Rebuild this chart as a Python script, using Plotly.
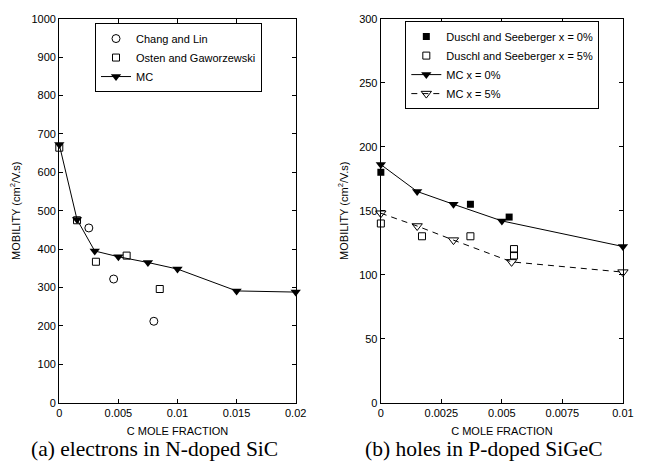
import plotly.graph_objects as go

# ---- data: (a) electrons in N-doped SiC ----
mc_a_x = [0, 0.0015, 0.003, 0.005, 0.0075, 0.01, 0.015, 0.02]
mc_a_y = [672, 477, 395, 380, 365, 348, 291, 288]
chang_x = [0.0025, 0.0046, 0.0080]
chang_y = [455, 322, 212]
osten_x = [0, 0.0015, 0.0031, 0.0057, 0.0085]
osten_y = [664, 475, 367, 383, 296]
xticks_a = [0, 0.005, 0.01, 0.015, 0.02]
xtext_a = ["0", "0.005", "0.01", "0.015", "0.02"]
yticks_a = [0, 100, 200, 300, 400, 500, 600, 700, 800, 900, 1000]

# ---- data: (b) holes in P-doped SiGeC ----
mc0_x = [0, 0.0015, 0.003, 0.005, 0.01]
mc0_y = [186, 165, 155, 142, 122]
mc5_x = [0, 0.0015, 0.003, 0.0054, 0.01]
mc5_y = [148, 138, 127, 110, 102]
dus0_x = [0, 0.0037, 0.0053]
dus0_y = [180, 155, 145]
dus5_x = [0, 0.0017, 0.0037, 0.0055, 0.0055]
dus5_y = [140, 130, 130, 120, 115]
xticks_b = [0, 0.0025, 0.005, 0.0075, 0.01]
xtext_b = ["0", "0.0025", "0.005", "0.0075", "0.01"]
yticks_b = [0, 50, 100, 150, 200, 250, 300]

W, H = 663, 473
FONT = "Liberation Sans, Arial, sans-serif"
SERIF = "Liberation Serif, Times New Roman, serif"

fig = go.Figure()

# (a)
fig.add_trace(go.Scatter(x=chang_x, y=chang_y, mode="markers", name="Chang and Lin", cliponaxis=False,
                         marker=dict(symbol="circle-open", size=8, color="black", line=dict(width=1)),
                         xaxis="x", yaxis="y", legend="legend"))
fig.add_trace(go.Scatter(x=osten_x, y=osten_y, mode="markers", name="Osten and Gaworzewski", cliponaxis=False,
                         marker=dict(symbol="square-open", size=7, color="black", line=dict(width=1)),
                         xaxis="x", yaxis="y", legend="legend"))
fig.add_trace(go.Scatter(x=mc_a_x, y=mc_a_y, mode="lines+markers", name="MC", cliponaxis=False,
                         line=dict(color="black", width=1),
                         marker=dict(symbol="triangle-down", size=9, color="black"),
                         xaxis="x", yaxis="y", legend="legend"))

# (b)
fig.add_trace(go.Scatter(x=dus0_x, y=dus0_y, mode="markers", name="Duschl and Seeberger x = 0%", cliponaxis=False,
                         marker=dict(symbol="square", size=7, color="black"),
                         xaxis="x2", yaxis="y2", legend="legend2"))
fig.add_trace(go.Scatter(x=dus5_x, y=dus5_y, mode="markers", name="Duschl and Seeberger x = 5%", cliponaxis=False,
                         marker=dict(symbol="square-open", size=7, color="black", line=dict(width=1)),
                         xaxis="x2", yaxis="y2", legend="legend2"))
fig.add_trace(go.Scatter(x=mc0_x, y=mc0_y, mode="lines+markers", name="MC x = 0%", cliponaxis=False,
                         line=dict(color="black", width=1),
                         marker=dict(symbol="triangle-down", size=9, color="black"),
                         xaxis="x2", yaxis="y2", legend="legend2"))
fig.add_trace(go.Scatter(x=mc5_x, y=mc5_y, mode="lines+markers", name="MC x = 5%", cliponaxis=False,
                         line=dict(color="black", width=1, dash="6px,5px"),
                         marker=dict(symbol="triangle-down-open", size=9, color="black", line=dict(width=1)),
                         xaxis="x2", yaxis="y2", legend="legend2"))

ytop = 1 - 13 / H
ybot = 1 - 407 / H

axis_common = dict(showgrid=False, zeroline=False, showline=True, linecolor="black",
                   linewidth=1.3, mirror="ticks", ticks="inside", ticklen=4, tickcolor="black",
                   tickfont=dict(family=FONT, size=11, color="black"))

ytitle = "MOBILITY (cm<sup>2</sup>/V.s)"

fig.update_layout(
    width=W, height=H, margin=dict(l=0, r=0, t=0, b=0),
    paper_bgcolor="white", plot_bgcolor="white",
    font=dict(family=FONT, color="black"),
    xaxis=dict(domain=[57.5 / W, 299 / W], range=[0, 0.02], tickvals=xticks_a, ticktext=xtext_a,
               title=dict(text="C MOLE FRACTION", font=dict(size=11), standoff=9), anchor="y", **axis_common),
    yaxis=dict(domain=[ybot, ytop], range=[0, 1000], tickvals=yticks_a,
               title=dict(text=ytitle, font=dict(size=11), standoff=8), anchor="x", **axis_common),
    xaxis2=dict(domain=[386 / W, 633.3 / W], range=[0, 0.01], tickvals=xticks_b, ticktext=xtext_b,
                title=dict(text="C MOLE FRACTION", font=dict(size=11), standoff=9), anchor="y2", **axis_common),
    yaxis2=dict(domain=[ybot, ytop], range=[0, 300], tickvals=yticks_b,
                title=dict(text=ytitle, font=dict(size=11), standoff=8), anchor="x2", **axis_common),
    legend=dict(x=94 / W, y=1 - 17.5 / H, xanchor="left", yanchor="top", bgcolor="white",
                bordercolor="black", borderwidth=1, font=dict(family=FONT, size=11),
                tracegroupgap=0, itemwidth=30),
    legend2=dict(x=411 / W, y=1 - 15.5 / H, xanchor="left", yanchor="top", bgcolor="white",
                 bordercolor="black", borderwidth=1, font=dict(family=FONT, size=11),
                 tracegroupgap=0, itemwidth=30),
    showlegend=True,
)

fig.add_annotation(text="(a) electrons in N-doped SiC", x=154.5 / W, y=1 - 455 / H, xref="paper", yref="paper",
                   xanchor="center", yanchor="middle",
                   showarrow=False, font=dict(family=SERIF, size=21.5, color="black"))
fig.add_annotation(text="(b) holes in P-doped SiGeC", x=491 / W, y=1 - 455 / H, xref="paper", yref="paper",
                   xanchor="center", yanchor="middle",
                   showarrow=False, font=dict(family=SERIF, size=21.5, color="black"))

fig.write_html("out.html")
